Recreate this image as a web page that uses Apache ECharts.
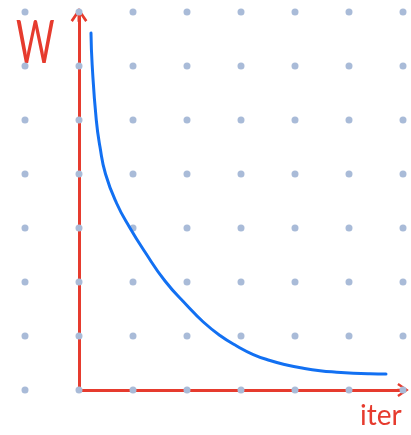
<!DOCTYPE html>
<html>
<head>
<meta charset="utf-8">
<script src="https://cdn.jsdelivr.net/npm/echarts@6/dist/echarts.min.js"></script>
<style>
  html, body { margin: 0; padding: 0; background: #ffffff; }
  #chart { width: 411px; height: 435px; }
</style>
</head>
<body>
<div id="chart"></div>
<script>
// grid-dot positions (in axis units)
const dotCols = [-1, 0, 1, 2, 3, 4, 5, 6];
const dotRows = [0, 1, 2, 3, 4, 5, 6, 7];
// curve W vs iter
const iterValues = [0.222, 0.244, 0.320, 0.389, 0.491, 0.694, 0.944, 1.222, 1.593, 2.0, 2.302, 2.611, 2.920, 3.228, 3.537, 3.846, 4.154, 4.463, 4.772, 5.080, 5.389, 5.685];
const wValues    = [6.611, 6.019, 5.0, 4.5, 4.0, 3.463, 3.0, 2.556, 2.019, 1.565, 1.259, 1.009, 0.815, 0.657, 0.546, 0.463, 0.402, 0.357, 0.330, 0.311, 0.300, 0.296];
const xName = 'iter';
const yName = 'W';

const RED = '#e63b2e';
const BLUE = '#1270f2';
const DOT = '#a9bbd8';

const dots = [];
dotCols.forEach(c => dotRows.forEach(r => dots.push([c, r])));
const curve = iterValues.map((x, i) => [x, wValues[i]]);

// open arrow with shaft, tip at top
const arrowPath = 'path://M8.5,0 L17,12.5 L14.8,14.2 L10,7 L10,14 L7,14 L7,7 L2.2,14.2 L0,12.5 Z';

const chart = echarts.init(document.getElementById('chart'), null, { renderer: 'canvas' });
chart.setOption({
  backgroundColor: '#ffffff',
  animation: false,
  grid: [
    { left: 25, right: 8, top: 12, bottom: 45 },
    { left: 79, right: 8, top: 12, bottom: 45 }
  ],
  xAxis: [
    { gridIndex: 0, type: 'value', min: -1, max: 6, show: false },
    {
      gridIndex: 1, type: 'value', min: 0, max: 6,
      axisLine: { show: true, onZero: false, lineStyle: { color: RED, width: 3 },
        symbol: ['none', arrowPath], symbolSize: [14, 11.5], symbolOffset: [0, 0] },
      axisTick: { show: false }, axisLabel: { show: false }, splitLine: { show: false }
    }
  ],
  yAxis: [
    { gridIndex: 0, type: 'value', min: 0, max: 7, show: false },
    {
      gridIndex: 1, type: 'value', min: 0, max: 7,
      axisLine: { show: true, onZero: false, lineStyle: { color: RED, width: 3 },
        symbol: ['none', arrowPath], symbolSize: [17, 14], symbolOffset: [0, -3] },
      axisTick: { show: false }, axisLabel: { show: false }, splitLine: { show: false }
    }
  ],
  series: [
    {
      type: 'scatter', xAxisIndex: 0, yAxisIndex: 0, data: dots,
      symbol: 'circle', symbolSize: 7, itemStyle: { color: DOT, opacity: 1 },
      silent: true, z: 3
    },
    {
      type: 'line', xAxisIndex: 1, yAxisIndex: 1, data: curve,
      smooth: 0.5, showSymbol: false, symbol: 'none',
      lineStyle: { color: BLUE, width: 3, cap: 'round' }, z: 5
    }
  ],
  graphic: [
    {
      type: 'text', left: 16, top: 14, scaleX: 0.62,
      style: { text: yName, font: '400 60px Lato', fill: RED }
    },
    {
      type: 'text', left: 360, top: 402,
      style: { text: xName, font: '400 28px Lato', fill: RED }
    }
  ]
});
</script>
</body>
</html>
